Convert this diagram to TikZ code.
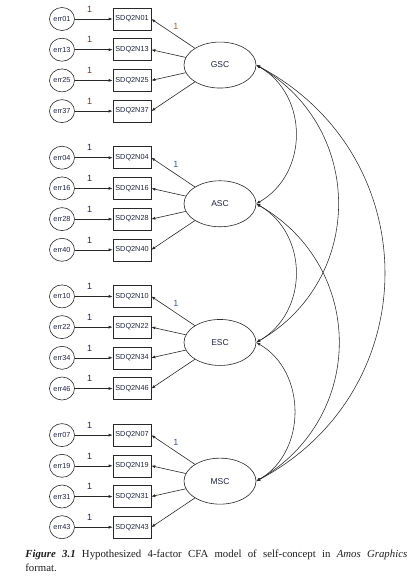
\documentclass[tikz,border=0pt]{standalone}
\usepackage{fontspec}
\setmainfont{Liberation Sans}
\newfontfamily\capfont{Liberation Serif}
\usetikzlibrary{arrows.meta,shapes.geometric,positioning}
\definecolor{ln}{RGB}{40,40,40}
\definecolor{txt}{RGB}{30,35,65}
\definecolor{brn}{RGB}{110,55,30}
\definecolor{org}{RGB}{170,100,40}
\definecolor{nvy}{RGB}{30,40,90}
\definecolor{blu}{RGB}{55,90,165}
\definecolor{capc}{RGB}{30,30,30}
\tikzset{
  every picture/.style={ln, line width=0.6pt, >={Latex[length=4pt,width=3pt]}},
  % Knoten
  errnode/.style={ellipse, draw, minimum width=25pt, minimum height=23pt, inner sep=0pt,
    font=\fontsize{7.3}{8}\selectfont, text=txt},
  indbox/.style={rectangle, draw, minimum width=38pt, minimum height=22pt, inner sep=0pt,
    font=\fontsize{7.3}{8}\selectfont, text=txt},
  latent/.style={ellipse, draw, minimum width=72pt, minimum height=46pt, inner sep=0pt,
    font=\fontsize{8.5}{9}\selectfont, text=txt},
  % Pfade
  load/.style={->},
  cov/.style={<->, line width=0.55pt},
  parm/.style={font=\fontsize{9}{10}\selectfont, inner sep=1pt},
}

\begin{document}
\begin{tikzpicture}[x=1pt, y=-1pt]
  \useasboundingbox (0,0) rectangle (415,587);
  \def\dy{30.7}     % Zeilenabstand
  \def\gap{138.7}   % Gruppenabstand
  % Faktoren mit ihren Items
  \foreach \f/\items/\lc/\rc [count=\g from 0] in
      {GSC/{01,13,25,37}/brn/org, ASC/{04,16,28,40}/nvy/blu,
       ESC/{10,22,34,46}/nvy/blu, MSC/{07,19,31,43}/nvy/blu}{
    \pgfmathsetmacro{\yt}{19+\g*\gap}
    \node[latent] (\f) at (220,\yt+46.05) {\f};
    \node[parm, text=\rc] (r\f) at (176,\yt+7) {1};
    \foreach \i [count=\k from 0] in \items {
      \pgfmathsetmacro{\yy}{\yt+\k*\dy}
      \node[errnode] (e\i) at (62,\yy) {err\i};
      \node[indbox] (b\i) at (132,\yy) {SDQ2N\i};
      \draw[load] (e\i) -- node[parm, pos=0.39, above=5.5pt, text=\lc] (o\i) {1} (b\i);
      \draw[load] (\f) -- (b\i.east);
    }
  }
  % Kovarianzen
  \draw[cov] (GSC.east) to[bend left=60, looseness=1.12] (ASC.east);
  \draw[cov] (ASC.east) to[bend left=60, looseness=1.12] (ESC.east);
  \draw[cov] (ESC.east) to[bend left=60, looseness=1.08] (MSC.east);
  \draw[cov] (GSC.east) to[bend left=60, looseness=1.16] (ESC.east);
  \draw[cov] (ASC.east) to[bend left=60, looseness=1.17] (MSC.east);
  \draw[cov] (GSC.east) to[bend left=62, looseness=1.19] (MSC.east);
  % Bildunterschrift
  \node[anchor=north west, inner sep=0pt, text width=382pt, align=justify, text=capc,
    font=\capfont\fontsize{10.8}{13.5}\selectfont] (cap) at (25,550)
    {\textbf{\textit{Figure 3.1}} Hypothesized 4-factor CFA model of self-concept in
     \textit{Amos Graphics}\linebreak format.};
\end{tikzpicture}
\end{document}
